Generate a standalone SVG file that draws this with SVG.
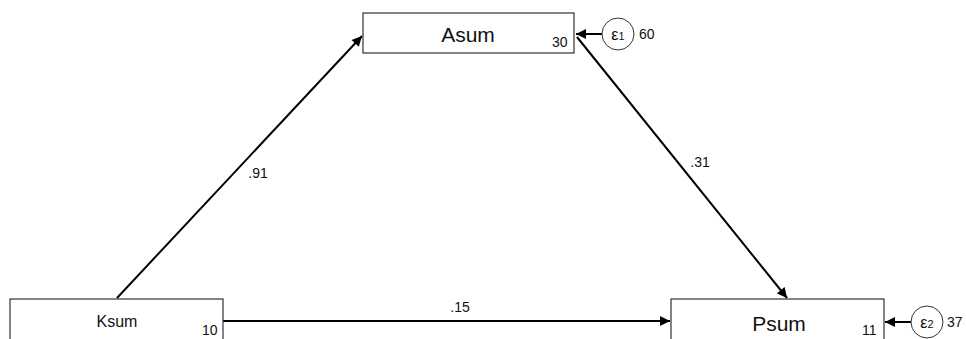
<svg xmlns="http://www.w3.org/2000/svg" width="966" height="339" viewBox="0 0 966 339">
<style>
.box{fill:#fff;stroke:#333;stroke-width:1.2}
.err{fill:#fff;stroke:#333;stroke-width:1}
.path{stroke:#000;stroke-width:2;fill:none}
.t{font-family:"Liberation Sans",Arial,sans-serif;fill:#111}
.name{font-size:21px;text-anchor:middle}
.small{font-size:14px}
.lbl{font-size:14px;text-anchor:middle}
</style>
<defs>
<marker id="ah" viewBox="0 0 10 10" refX="10" refY="5" markerWidth="5.5" markerHeight="5" orient="auto" markerUnits="strokeWidth">
<path d="M0,0 L10,5 L0,10 Z" fill="#000"/>
</marker>
</defs>
<rect width="966" height="339" fill="#fff"/>
<g id="connectors">
<line class="path" x1="117" y1="298" x2="362" y2="36" marker-end="url(#ah)"/>
<line class="path" x1="577" y1="37" x2="787" y2="298" marker-end="url(#ah)"/>
<line class="path" x1="223" y1="321" x2="670" y2="321" marker-end="url(#ah)"/>
<line class="path" x1="602" y1="34" x2="576" y2="34" marker-end="url(#ah)"/>
<line class="path" x1="911" y1="322" x2="885" y2="322" marker-end="url(#ah)"/>
<text class="t lbl" x="258" y="178">.91</text>
<text class="t lbl" x="700" y="167">.31</text>
<text class="t lbl" x="460" y="312">.15</text>
</g>
<g id="Asum">
<rect class="box" x="363" y="13" width="211" height="40"/>
<text class="t name" x="468" y="42">Asum</text>
<text class="t small" x="552" y="47">30</text>
</g>
<g id="Ksum">
<rect class="box" x="10" y="299" width="213" height="50"/>
<text class="t" x="117" y="327" font-size="16" text-anchor="middle">Ksum</text>
<text class="t small" x="202" y="335">10</text>
</g>
<g id="Psum">
<rect class="box" x="671" y="299" width="213" height="50"/>
<text class="t name" x="779" y="331">Psum</text>
<text class="t small" x="862" y="335">11</text>
</g>
<g id="e1">
<circle class="err" cx="618" cy="34" r="16"/>
<text class="t" x="618" y="40" font-size="16" text-anchor="middle">ε<tspan font-size="11">1</tspan></text>
<text class="t small" x="639" y="39">60</text>
</g>
<g id="e2">
<circle class="err" cx="927" cy="322" r="16"/>
<text class="t" x="927" y="328" font-size="16" text-anchor="middle">ε<tspan font-size="11">2</tspan></text>
<text class="t small" x="947" y="327">37</text>
</g>
</svg>
